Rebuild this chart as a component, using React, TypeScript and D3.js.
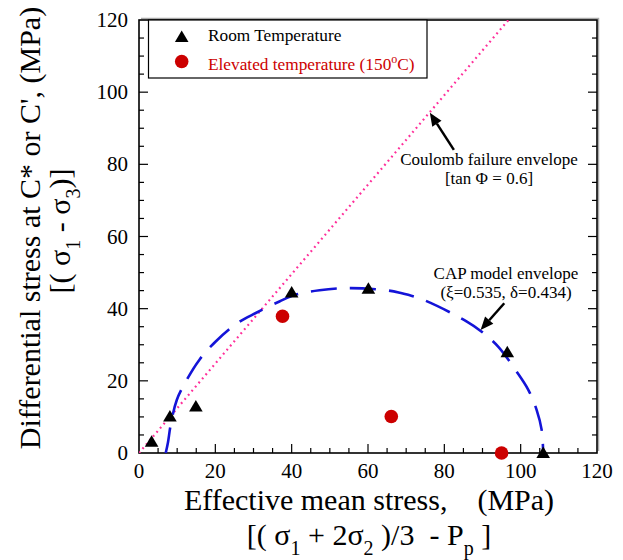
import React from "react";
import * as d3 from "d3";

// Room temperature (triangles)
const roomX = [3.3, 8.1, 14.9, 40.0, 60.1, 96.5, 105.9];
const roomY = [3.1, 10.1, 12.9, 44.5, 45.5, 27.9, 0];
// Elevated temperature 150°C (circles)
const hotX = [37.6, 66.1, 95.0];
const hotY = [37.9, 10.1, 0];
// Coulomb failure envelope
const coulombX = [0, 96.8];
const coulombY = [0, 120];
// CAP model envelope
const capX = [7.0, 7.6, 8.3, 9.9, 12.1, 15.8, 20.1, 25.8, 30.6, 36.8, 41.1, 47.3, 55.1, 64.8, 68.3, 74.4, 85.8, 89.7, 94.1, 98.9, 102.0, 104.2, 105.5, 105.9];
const capY = [0, 3.0, 7.8, 14.7, 19.5, 25.8, 30.9, 36.0, 38.8, 42.0, 43.9, 45.1, 45.7, 45.1, 44.4, 42.5, 36.5, 33.7, 29.5, 22.6, 17.5, 11.9, 6.4, 0];
const xTicks = [0, 20, 40, 60, 80, 100, 120];
const yTicks = [0, 20, 40, 60, 80, 100, 120];

const FONT = "'Liberation Serif', 'Times New Roman', serif";

export default function App() {
  const W = 623, H = 560;
  const L = 139, R = 597, T = 20, B = 453;
  const x = d3.scaleLinear().domain([0, 120]).range([L, R]);
  const y = d3.scaleLinear().domain([0, 120]).range([B, T]);

  const minor = d3.range(0, 121, 5);
  const capPts: [number, number][] = capX.map((v, i) => [v, capY[i]]);
  const capPath = d3.line<[number, number]>().x(d => x(d[0])).y(d => y(d[1])).curve(d3.curveCatmullRom.alpha(0.5))(capPts) || "";
  const coulPath = d3.line<number>().x(d => x(coulombX[d])).y(d => y(coulombY[d]))([0, 1]) || "";

  const tri = (cx: number, cy: number) => `M${cx},${cy - 6.5} L${cx + 6.8},${cy + 5} L${cx - 6.8},${cy + 5} Z`;

  const arrow = (x1: number, y1: number, x2: number, y2: number, key: string) => {
    const ang = Math.atan2(y2 - y1, x2 - x1);
    const len = 13, hw = 5.5;
    const bx = x2 - len * Math.cos(ang), by = y2 - len * Math.sin(ang);
    const px = -Math.sin(ang) * hw, py = Math.cos(ang) * hw;
    return (
      <g key={key}>
        <line x1={x1} y1={y1} x2={bx} y2={by} stroke="#000" strokeWidth={2.5} />
        <path d={`M${x2},${y2} L${bx + px},${by + py} L${bx - px},${by - py} Z`} fill="#000" />
      </g>
    );
  };

  return (
    <svg width={W} height={H} style={{ position: "absolute", left: 0, top: 0, background: "#fff" }} fontFamily={FONT}>
      <defs>
        <clipPath id="plot"><rect x={L} y={T} width={R - L} height={B - T} /></clipPath>
      </defs>
      {/* frame shadow */}
      <path d={`M${L + 2},${T - 1.5} H${R + 1.5} V${B - 2}`} fill="none" stroke="#aaa" strokeWidth={1.5} />
      {/* ticks */}
      {minor.map(v => {
        const maj = v % 20 === 0;
        const len = maj ? 9 : 5;
        return (
          <g key={"t" + v} stroke="#000" strokeWidth={1.2}>
            {v > 0 && v < 120 && <line x1={x(v)} x2={x(v)} y1={B} y2={B - len} />}
            {v > 0 && v < 120 && <line x1={L} x2={L + len} y1={y(v)} y2={y(v)} />}
            {v > 0 && v < 120 && <line x1={R} x2={R - len} y1={y(v)} y2={y(v)} />}
          </g>
        );
      })}
      <rect x={L} y={T} width={R - L} height={B - T} fill="none" stroke="#000" strokeWidth={1.6} />

      {/* tick labels */}
      {xTicks.map(v => (
        <text key={"xl" + v} x={x(v)} y={478} fontSize={21} textAnchor="middle">{v}</text>
      ))}
      {yTicks.map(v => (
        <text key={"yl" + v} x={128} y={y(v) + 7} fontSize={21} textAnchor="end">{v}</text>
      ))}

      {/* lines */}
      <g clipPath="url(#plot)">
        <path d={coulPath} fill="none" stroke="#FF2E9A" strokeWidth={2.2} strokeDasharray="1.8,3.6" />
        <path d={capPath} fill="none" stroke="#1414D8" strokeWidth={2.6} strokeDasharray="26,13" />
      </g>

      {/* points */}
      {roomX.map((v, i) => (
        <path key={"r" + i} d={tri(x(v), y(roomY[i]))} fill="#000" />
      ))}
      {hotX.map((v, i) => (
        <circle key={"h" + i} cx={x(v)} cy={y(hotY[i])} r={6.8} fill="#CC0000" />
      ))}

      {/* legend */}
      <rect x={148.5} y={T} width={278.5} height={58} fill="#fff" stroke="#000" strokeWidth={1.2} />
      <path d={tri(181.7, 37)} fill="#000" />
      <text x={208} y={41} fontSize={17.3}>Room Temperature</text>
      <circle cx={181.7} cy={61.5} r={6.8} fill="#CC0000" />
      <text x={208} y={70} fontSize={17.3} fill="#CC0000">Elevated temperature (150<tspan dy={-7} fontSize={12}>o</tspan><tspan dy={7}>C)</tspan></text>

      {/* annotations */}
      <text x={489} y={165} fontSize={17} textAnchor="middle">Coulomb failure envelope</text>
      <text x={489} y={184} fontSize={17} textAnchor="middle">[tan Φ = 0.6]</text>
      {arrow(x(82.5), y(84.0), x(76.2), y(94.3), "a1")}
      <text x={506} y={279} fontSize={17} textAnchor="middle">CAP model envelope</text>
      <text x={506} y={298} fontSize={17} textAnchor="middle">(ξ=0.535, δ=0.434)</text>
      {arrow(x(95.7), y(41.5), x(89.5), y(34.1), "a2")}

      {/* x title */}
      <text x={369} y={510} fontSize={30} textAnchor="middle">Effective mean stress,{"\u00A0\u00A0\u00A0\u00A0"}(MPa)</text>
      <text x={369} y={545} fontSize={30} textAnchor="middle">
        [( σ<tspan fontSize={20} dy={10}>1</tspan><tspan dy={-10}> + 2σ</tspan><tspan fontSize={20} dy={10}>2</tspan><tspan dy={-10}> )/3 {"\u00A0"}- P</tspan><tspan fontSize={20} dy={10}>p</tspan><tspan dy={-10}> ]</tspan>
      </text>

      {/* y title */}
      <text transform="translate(40,228) rotate(-90)" fontSize={30} textAnchor="middle">Differential stress at C* or C', (MPa)</text>
      <text transform="translate(70,231) rotate(-90)" fontSize={30} textAnchor="middle">
        [( σ<tspan fontSize={20} dy={10}>1</tspan><tspan dy={-10}> - σ</tspan><tspan fontSize={20} dy={10}>3</tspan><tspan dy={-10}>)]</tspan>
      </text>
    </svg>
  );
}
